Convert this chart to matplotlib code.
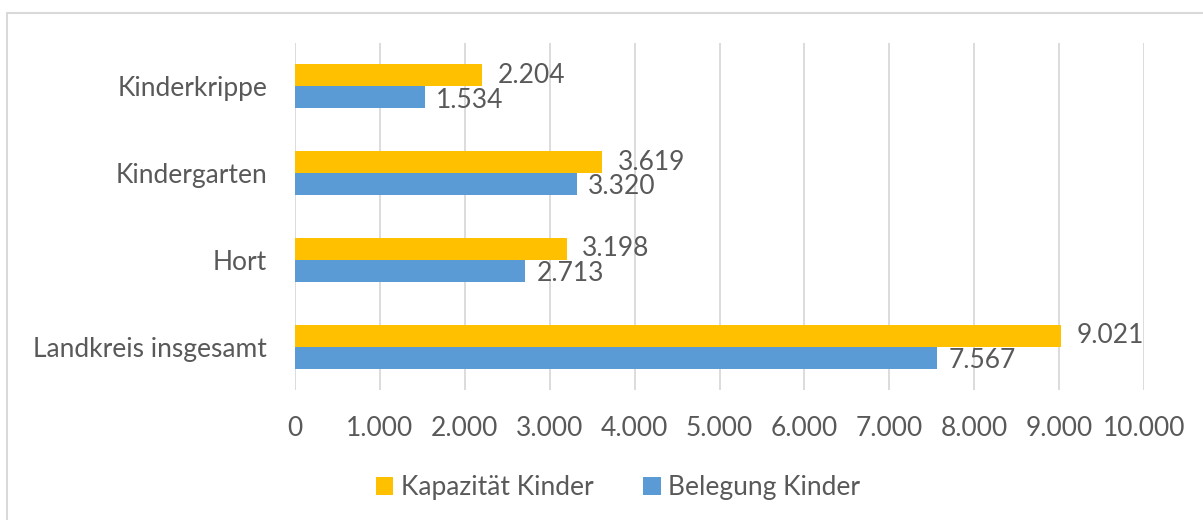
import matplotlib.pyplot as plt
from matplotlib.patches import Rectangle
import numpy as np

plt.rcParams['font.family'] = ['Lato', 'DejaVu Sans']

categories = ["Landkreis insgesamt", "Hort", "Kindergarten", "Kinderkrippe"]
kapazitaet = [9021, 3198, 3619, 2204]
belegung = [7567, 2713, 3320, 1534]
xticks = [0, 1000, 2000, 3000, 4000, 5000, 6000, 7000, 8000, 9000, 10000]

yellow = "#FFC000"
blue = "#5B9BD5"
txt = "#595959"
grid = "#D9D9D9"
fs = 19


def de_fmt(v):
    return f"{v:,}".replace(",", ".")


fig = plt.figure(figsize=(12.03, 5.2), dpi=100)
ax = fig.add_axes([295 / 1203, 1 - 390 / 520, (1144 - 295) / 1203, (390 - 43) / 520])

y = np.arange(len(categories))
h = 0.255
ax.barh(y + h / 2, kapazitaet, height=h, color=yellow, label="Kapazität Kinder", zorder=3)
ax.barh(y - h / 2, belegung, height=h, color=blue, label="Belegung Kinder", zorder=3)

for i in range(len(categories)):
    ax.annotate(de_fmt(kapazitaet[i]), (kapazitaet[i], y[i] + h / 2), xytext=(11, 0),
                textcoords="offset points", va="center", ha="left", fontsize=fs, color=txt)
    ax.annotate(de_fmt(belegung[i]), (belegung[i], y[i] - h / 2), xytext=(8, -2),
                textcoords="offset points", va="center", ha="left", fontsize=fs, color=txt)

ax.set_xlim(0, 10000)
ax.set_ylim(-0.5, 3.5)
ax.set_xticks(xticks)
ax.set_xticklabels([de_fmt(v) for v in xticks])
ax.set_yticks(y)
ax.set_yticklabels(categories)
ax.tick_params(axis="both", length=0, labelsize=fs, labelcolor=txt)
ax.tick_params(axis="x", pad=19)
ax.tick_params(axis="y", pad=20)
ax.grid(axis="x", color=grid, linewidth=1.3, zorder=0)
for s in ax.spines.values():
    s.set_visible(False)

ax.legend(loc="center", bbox_to_anchor=(618 / 1203, 1 - 488 / 520), bbox_transform=fig.transFigure,
          ncol=2, frameon=False, fontsize=fs, labelcolor=txt, handlelength=0.65, handleheight=0.65,
          handletextpad=0.3, columnspacing=1.9)

fig.patches.append(Rectangle((7 / 1203, -0.1), 1.2, 1 - 13 / 520 + 0.1, transform=fig.transFigure,
                             fill=False, edgecolor=grid, linewidth=1.5))

fig.savefig("out.png", dpi=100)
